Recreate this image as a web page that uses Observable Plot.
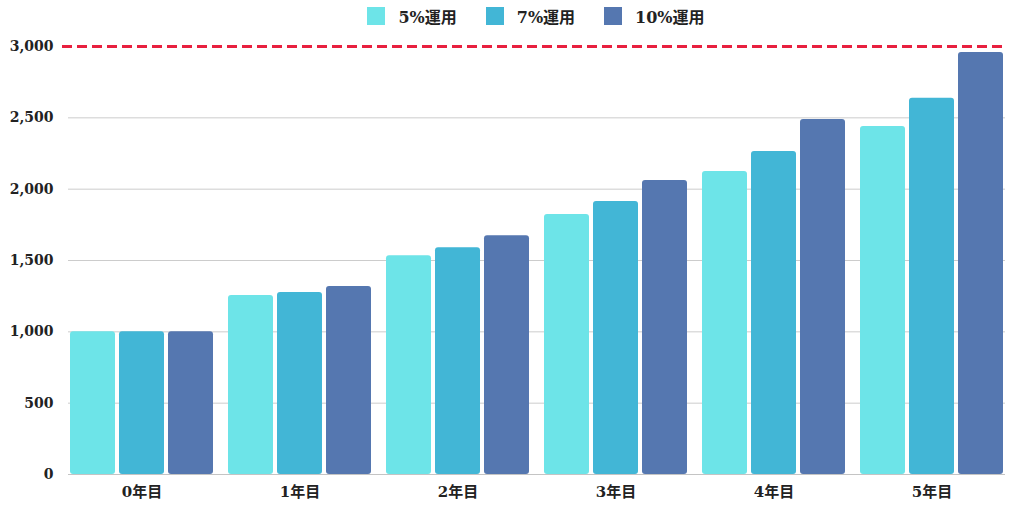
<!DOCTYPE html>
<html>
<head>
<meta charset="utf-8">
<script src="https://cdn.jsdelivr.net/npm/d3@7"></script>
<script src="https://cdn.jsdelivr.net/npm/@observablehq/plot@0.6"></script>
<style>
  html, body { margin: 0; padding: 0; background: #fff; }
  #legend { height: 32px; display: flex; align-items: center; justify-content: center; padding-left: 48px; font-family: "DejaVu Serif", "Noto Sans CJK JP", serif; font-weight: bold; font-size: 16px; color: #222; }
  .item { display: flex; align-items: center; }
  .sw { width: 18px; height: 18px; margin-right: 13px; }
  .item + .item { margin-left: 29px; }
  #chart svg { display: block; }
</style>
</head>
<body>
<div id="legend"></div>
<div id="chart"></div>
<script>
const years = ["0年目", "1年目", "2年目", "3年目", "4年目", "5年目"];
const series = ["5%運用", "7%運用", "10%運用"];
const colors = ["#6de4e8", "#42b6d6", "#5577b0"];
const v5 = [1000, 1255, 1533, 1822, 2124, 2439];
const v7 = [1000, 1276, 1589, 1913, 2264, 2638];
const v10 = [1000, 1318, 1673, 2061, 2488, 2958];
const target = [3000];
const yTicks = [0, 500, 1000, 1500, 2000, 2500, 3000];

const values = [v5, v7, v10];
const data = [];
years.forEach((y, i) => series.forEach((s, j) => data.push({year: y, series: s, value: values[j][i]})));

const legend = document.getElementById("legend");
series.forEach((s, j) => {
  const it = document.createElement("div");
  it.className = "item";
  it.innerHTML = `<div class="sw" style="background:${colors[j]}"></div><span>${s}</span>`;
  legend.appendChild(it);
});

const font = '"DejaVu Serif", "Noto Sans CJK JP", serif';
const barW = 46, gap = 3;
const barMarks = series.map((s, j) => Plot.barY(data.filter(d => d.series === s), {
  x: "year", y: "value", fill: "series", rx: 3,
  insetLeft: j * (barW + gap), insetRight: (series.length - 1 - j) * (barW + gap)
}));

const plot = Plot.plot({
  width: 1024,
  height: 487,
  marginTop: 14,
  marginBottom: 45,
  marginLeft: 68,
  marginRight: 19,
  style: {fontFamily: font, fontWeight: "bold", fontSize: "14px", color: "#222", background: "#fff"},
  x: {domain: years, paddingInner: 0.093, paddingOuter: 0, label: null},
  y: {domain: [0, 3000], label: null},
  color: {domain: series, range: colors},
  marks: [
    Plot.ruleY(yTicks.filter(d => d > 0 && d < 3000), {stroke: "#cccccc", strokeWidth: 1}),
    ...barMarks,
    Plot.ruleY([0], {stroke: "#c4c4c4", strokeWidth: 1}),
    Plot.ruleY(target, {stroke: "#e8203f", strokeWidth: 3, strokeDasharray: "10,5", insetLeft: -6, insetRight: 2}),
    Plot.axisY({ticks: yTicks, tickFormat: d3.format(","), tickSize: 0, tickPadding: 15, label: null, fontSize: 14}),
    Plot.axisX({tickSize: 0, tickPadding: 12, label: null, fontSize: 15})
  ]
});
document.getElementById("chart").appendChild(plot);
</script>
</body>
</html>
